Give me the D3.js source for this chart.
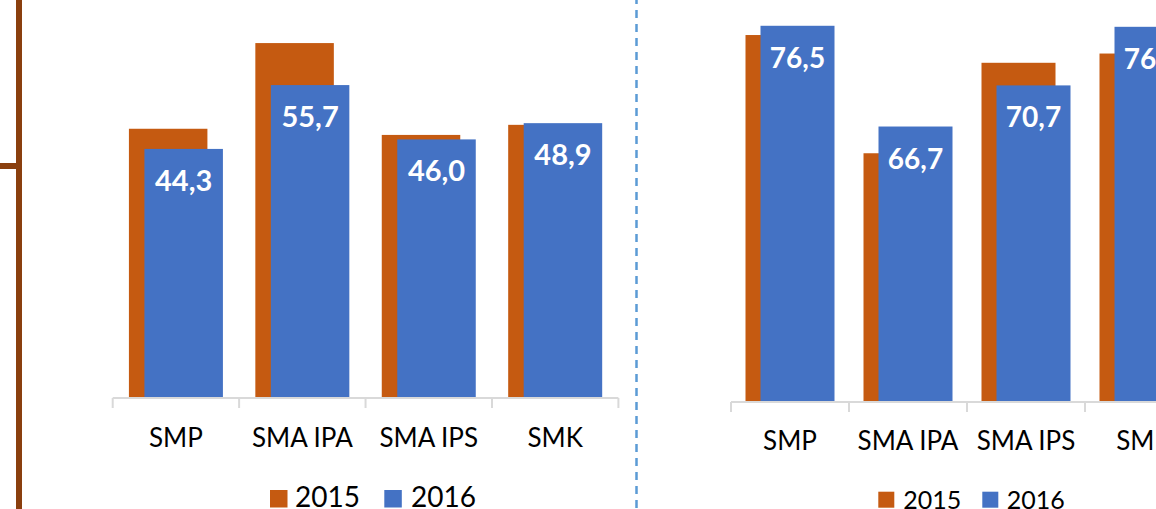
<!DOCTYPE html>
<html>
<head>
<meta charset="utf-8">
<script src="https://cdn.jsdelivr.net/npm/d3@7"></script>
<style>
  html, body { margin: 0; padding: 0; background: #fff; }
  svg { display: block; font-family: Lato, "Noto Sans", sans-serif; }
</style>
</head>
<body>
<svg id="chart" width="1156" height="509"></svg>
<script>
const categories = ["SMP", "SMA IPA", "SMA IPS", "SMK"];
const seriesNames = ["2015", "2016"];
const leftValues2015 = [47.9, 63.2, 46.8, 48.6];
const leftValues2016 = [44.3, 55.7, 46.0, 48.9];
const rightValues2015 = [75.6, 64.1, 72.9, 73.8];
const rightValues2016 = [76.5, 66.7, 70.7, 76.4];
const leftYDomain = [0, 70];
const rightYDomain = [40, 80];

const ORANGE = "#C55A11";
const BLUE = "#4472C4";
const AXIS_GREY = "#D9D9D9";

const svg = d3.select("#chart");
const fmt = (v) => d3.format(".1f")(v).replace(".", ",");

// decorations around the two panels
svg.append("line")
  .attr("x1", 19).attr("x2", 19).attr("y1", 0).attr("y2", 509)
  .attr("stroke", "#8A3F0E").attr("stroke-width", 6);
svg.append("line")
  .attr("x1", 0).attr("x2", 19).attr("y1", 166).attr("y2", 166)
  .attr("stroke", "#8A3F0E").attr("stroke-width", 6);
svg.append("line")
  .attr("x1", 636.5).attr("x2", 636.5).attr("y1", -4).attr("y2", 509)
  .attr("stroke", "#5B9BD5").attr("stroke-width", 2.5)
  .attr("stroke-dasharray", "8,6");

function drawPanel({
  values2015,
  values2016,
  yDomain,
  xRange,
  yRange,
  axisY,
  barWidth,
  barOffset,
  labelSize,
  labelBaseline,
  legend,
}) {
  const x = d3.scaleBand().domain(categories).range(xRange).padding(0);
  const y = d3.scaleLinear().domain(yDomain).range(yRange);
  const margin = (x.bandwidth() - barWidth - barOffset) / 2;

  const rows = categories.map((c, i) => ({ cat: c, v2015: values2015[i], v2016: values2016[i] }));
  const g = svg.append("g");

  g.selectAll("rect.s2015")
    .data(rows)
    .join("rect")
    .attr("class", "s2015")
    .attr("x", (d) => x(d.cat) + margin)
    .attr("y", (d) => y(d.v2015))
    .attr("width", barWidth)
    .attr("height", (d) => y(yDomain[0]) - y(d.v2015))
    .attr("fill", ORANGE);

  g.selectAll("rect.s2016")
    .data(rows)
    .join("rect")
    .attr("class", "s2016")
    .attr("x", (d) => x(d.cat) + margin + barOffset)
    .attr("y", (d) => y(d.v2016))
    .attr("width", barWidth)
    .attr("height", (d) => y(yDomain[0]) - y(d.v2016))
    .attr("fill", BLUE);

  g.selectAll("text.val")
    .data(rows)
    .join("text")
    .attr("class", "val")
    .attr("x", (d) => x(d.cat) + margin + barOffset + barWidth / 2)
    .attr("y", (d) => y(d.v2016) + 42)
    .attr("text-anchor", "middle")
    .attr("fill", "#fff")
    .attr("font-weight", 700)
    .attr("font-size", labelSize)
    .text((d) => fmt(d.v2016));

  // category axis: labels from d3 axis, ticks between categories like Excel
  const axisG = g.append("g")
    .attr("transform", `translate(0,${axisY})`)
    .call(d3.axisBottom(x).tickSize(0));
  axisG.select(".domain").remove();
  axisG.selectAll(".tick text")
    .attr("y", labelBaseline - axisY)
    .attr("dy", null)
    .attr("font-size", 26)
    .attr("font-family", "Lato, sans-serif")
    .attr("fill", "#000");

  g.append("line")
    .attr("x1", xRange[0]).attr("x2", xRange[1])
    .attr("y1", axisY).attr("y2", axisY)
    .attr("stroke", AXIS_GREY).attr("stroke-width", 2);
  const bounds = categories.map((c) => x(c)).concat([x(categories[categories.length - 1]) + x.bandwidth()]);
  g.selectAll("line.tick-b")
    .data(bounds)
    .join("line")
    .attr("class", "tick-b")
    .attr("x1", (d) => d).attr("x2", (d) => d)
    .attr("y1", axisY).attr("y2", axisY + 10)
    .attr("stroke", AXIS_GREY).attr("stroke-width", 2);

  // legend
  const lg = g.append("g");
  seriesNames.forEach((name, i) => {
    const item = legend.items[i];
    lg.append("rect")
      .attr("x", item.box).attr("y", legend.boxY)
      .attr("width", legend.boxSize).attr("height", legend.boxSize)
      .attr("fill", i === 0 ? ORANGE : BLUE);
    lg.append("text")
      .attr("x", item.text).attr("y", legend.textY)
      .attr("font-size", legend.fontSize)
      .attr("fill", "#000")
      .text(name);
  });
}

drawPanel({
  values2015: leftValues2015,
  values2016: leftValues2016,
  yDomain: leftYDomain,
  xRange: [112.7, 618.4],
  yRange: [397, 5],
  axisY: 398,
  barWidth: 78.5,
  barOffset: 15.5,
  labelSize: 29,
  labelBaseline: 447,
  legend: {
    boxY: 490, boxSize: 17.5, textY: 507, fontSize: 28,
    items: [{ box: 270, text: 295 }, { box: 384.3, text: 411 }],
  },
});

drawPanel({
  values2015: rightValues2015,
  values2016: rightValues2016,
  yDomain: rightYDomain,
  xRange: [731, 1203],
  yRange: [401, -10.2],
  axisY: 402,
  barWidth: 74,
  barOffset: 15,
  labelSize: 28,
  labelBaseline: 449.5,
  legend: {
    boxY: 491.7, boxSize: 16, textY: 509, fontSize: 25,
    items: [{ box: 878.3, text: 903.3 }, { box: 982.3, text: 1006.7 }],
  },
});
</script>
</body>
</html>
